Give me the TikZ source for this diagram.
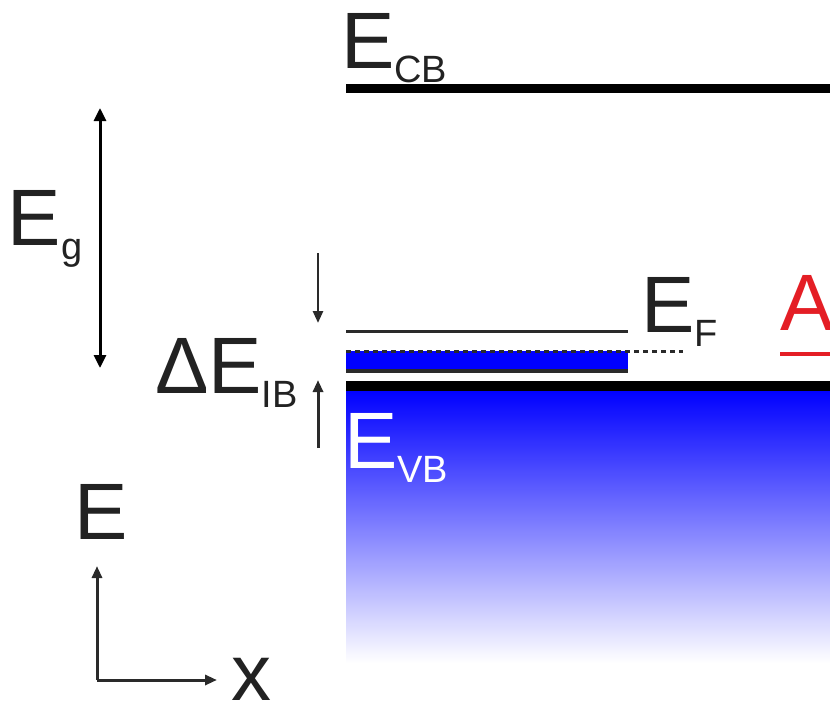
\documentclass[tikz,border=0pt]{standalone}
\usepackage{fontspec}
\setmainfont{Liberation Sans}
\usetikzlibrary{arrows.meta}
\definecolor{txt}{HTML}{222222}
\definecolor{ink}{HTML}{2A2A2A}
\definecolor{bandblue}{RGB}{0,0,255}
\definecolor{redA}{RGB}{228,30,37}
\newcommand{\lvl}[2]{{\fontsize{80}{80}\selectfont #1}\raisebox{-14.5pt}{\fontsize{38}{38}\selectfont #2}}
\newcommand{\bigtxt}[1]{{\fontsize{80}{80}\selectfont #1}}
\tikzset{
  lbl/.style={anchor=base west, inner sep=0pt, outer sep=0pt, text=txt},
  arr/.style={-{Triangle[width=10pt,length=12pt]}, line width=2.6pt, draw=ink},
  darr/.style={{Triangle[width=12pt,length=13pt]}-{Triangle[width=12pt,length=13pt]}, line width=3pt, draw=black},
}
\begin{document}
\begin{tikzpicture}[x=1pt,y=-1pt]
\useasboundingbox (0,0) rectangle (830,704);

% coordinates
\coordinate (cbL) at (346,88.5);  \coordinate (cbR) at (830,88.5);
\coordinate (vbL) at (346,385.5); \coordinate (vbR) at (830,385.5);
\coordinate (efL) at (346,331.5); \coordinate (efR) at (628,331.5);
\coordinate (dtL) at (346,351);   \coordinate (dtR) at (683,351);
\coordinate (ibL) at (346,371);   \coordinate (ibR) at (628,371);
\coordinate (egT) at (100,108);   \coordinate (egB) at (100,368);
\coordinate (dnT) at (318,253);   \coordinate (dnB) at (318,323);
\coordinate (upB) at (318,448);   \coordinate (upT) at (318,380);
\coordinate (ax0) at (97,680);    \coordinate (axE) at (97,566);  \coordinate (axX) at (217,680);
\coordinate (rdL) at (780,354);   \coordinate (rdR) at (830,354);

% valence band gradient
\shade[top color=bandblue, bottom color=white] (346,390) rectangle (830,663);
% impurity band
\fill[bandblue] (346,351) rectangle (628,369);
\draw[line width=4pt, draw=ink] (ibL) -- (ibR);

% levels
\draw[line width=9pt] (cbL) -- (cbR);
\draw[line width=10pt] (vbL) -- (vbR);
\draw[line width=3.5pt, draw=ink] (efL) -- (efR);
\draw[line width=3pt, draw=ink, dash pattern=on 5pt off 4pt] (dtL) -- (dtR);

% arrows
\draw[darr] (egT) -- (egB);
\draw[arr] (dnT) -- (dnB);
\draw[arr, line width=3pt] (upB) -- (upT);
\draw[arr, line width=3pt] (ax0) -- (axE);
\draw[arr, line width=3pt] (ax0) -- (axX);

% red
\draw[line width=3.5pt, draw=redA] (rdL) -- (rdR);

% labels
\node[lbl] (ecb) at (341,68) {\lvl{E}{CB}};
\node[lbl] (eg) at (8,245) {\lvl{E}{g}};
\node[lbl] (dib) at (155,393) {\lvl{ΔE}{IB}};
\node[lbl] (ef) at (641,332) {\lvl{E}{F}};
\node[lbl, text=white] (evb) at (344,468) {\lvl{E}{VB}};
\node[lbl] (eax) at (74,539) {\bigtxt{E}};
\node[lbl] (xax) at (231,700) {\bigtxt{x}};
\node[lbl, text=redA] (ra) at (780,330) {\bigtxt{A}};
\end{tikzpicture}
\end{document}
